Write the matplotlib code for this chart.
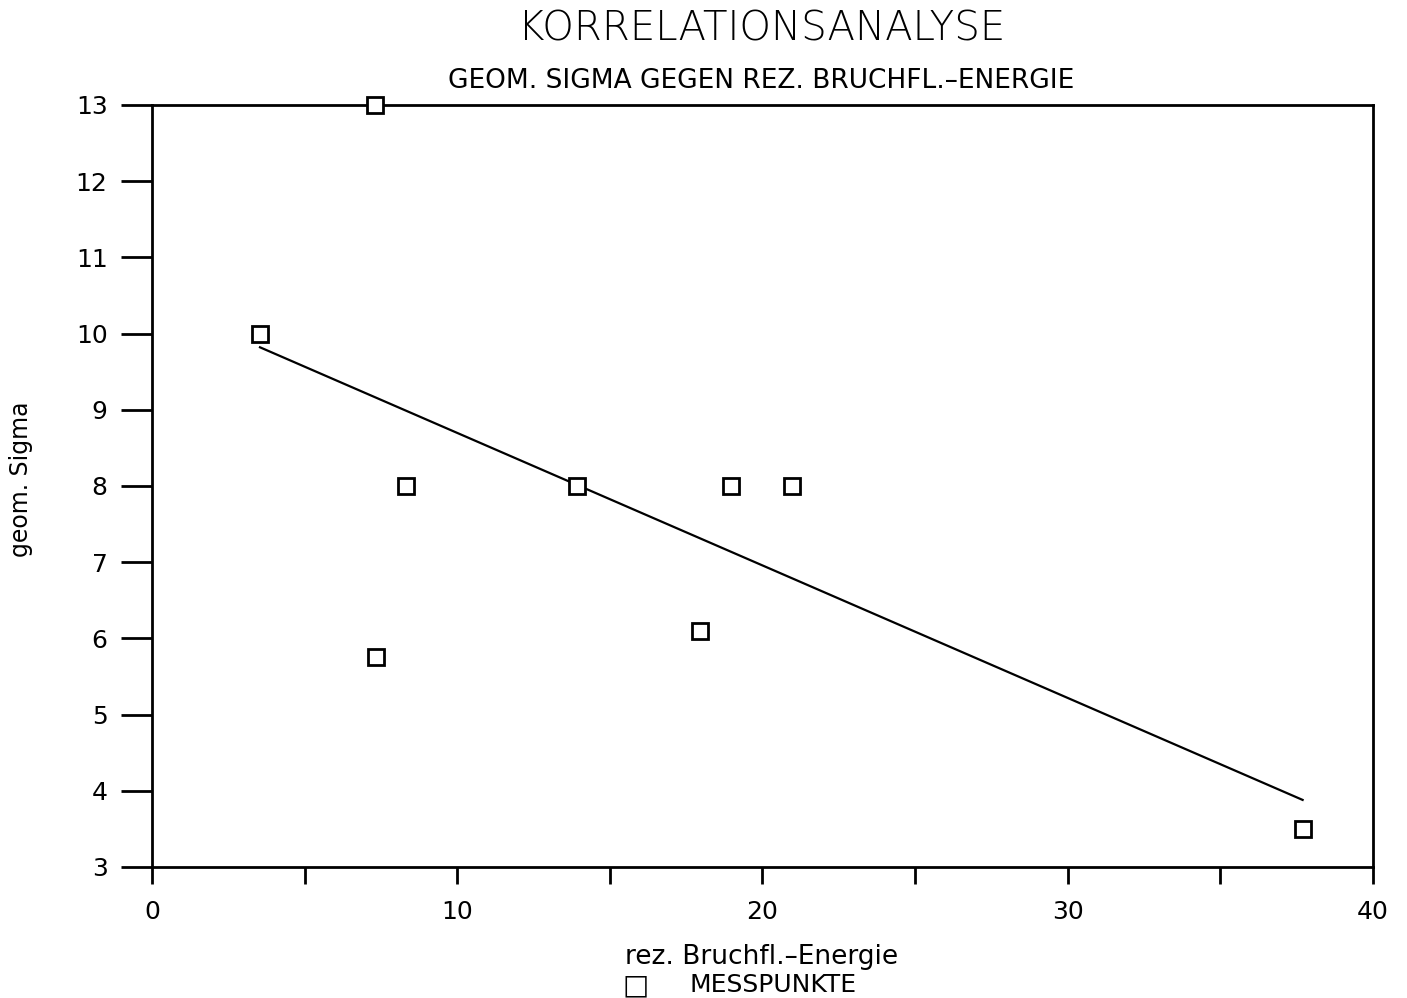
import matplotlib
matplotlib.use("Agg")
import matplotlib.pyplot as plt

# Messpunkte (rez. Bruchfl.-Energie, geom. Sigma)
energie = [3.54, 7.3, 8.33, 13.93, 18.98, 20.98, 7.34, 17.97, 37.7]
sigma = [10.0, 13.0, 8.0, 8.0, 8.0, 8.0, 5.76, 6.1, 3.5]

# Regressionsgerade (Endpunkte)
line_x = [3.54, 37.7]
line_y = [9.82, 3.88]

x_major = [0, 10, 20, 30, 40]
x_minor = [5, 15, 25, 35]
y_ticks = list(range(3, 14))

plt.rcParams["font.family"] = ["DejaVu Sans"]

fig = plt.figure(figsize=(14.07, 9.98), dpi=100)
ax = fig.add_axes([0.108, 0.1313, 0.8677, 0.7635])

ax.plot(line_x, line_y, color="black", lw=1.6)
ax.plot(energie, sigma, ls="none", marker="s", ms=12, mfc="white",
        mec="black", mew=2, clip_on=False, zorder=3)

ax.set_xlim(0, 40)
ax.set_ylim(3, 13)
ax.set_xticks(x_major)
ax.set_xticks(x_minor, minor=True)
ax.set_yticks(y_ticks)
ax.tick_params(axis="both", which="both", direction="out", width=2,
               color="black")
ax.tick_params(axis="y", length=22, pad=10, labelsize=18)
ax.tick_params(axis="x", which="both", length=12, pad=12, labelsize=18)
for s in ax.spines.values():
    s.set_linewidth(2)

fig.text(0.541, 0.971, "KORRELATIONSANALYSE", ha="center", va="center",
         fontsize=29, fontweight="light")
fig.text(0.541, 0.919, "GEOM. SIGMA GEGEN REZ. BRUCHFL.\u2013ENERGIE",
         ha="center", va="center", fontsize=19)
fig.text(0.541, 0.041, "rez. Bruchfl.\u2013Energie", ha="center", va="center",
         fontsize=19)
fig.text(0.452, 0.013, "\u25a1", ha="center", va="center", fontsize=20)
fig.text(0.49, 0.013, "MESSPUNKTE", ha="left", va="center", fontsize=18)
fig.text(0.015, 0.52, "geom. Sigma", ha="center", va="center", fontsize=17,
         rotation=90)

fig.savefig("out.png", dpi=100)
